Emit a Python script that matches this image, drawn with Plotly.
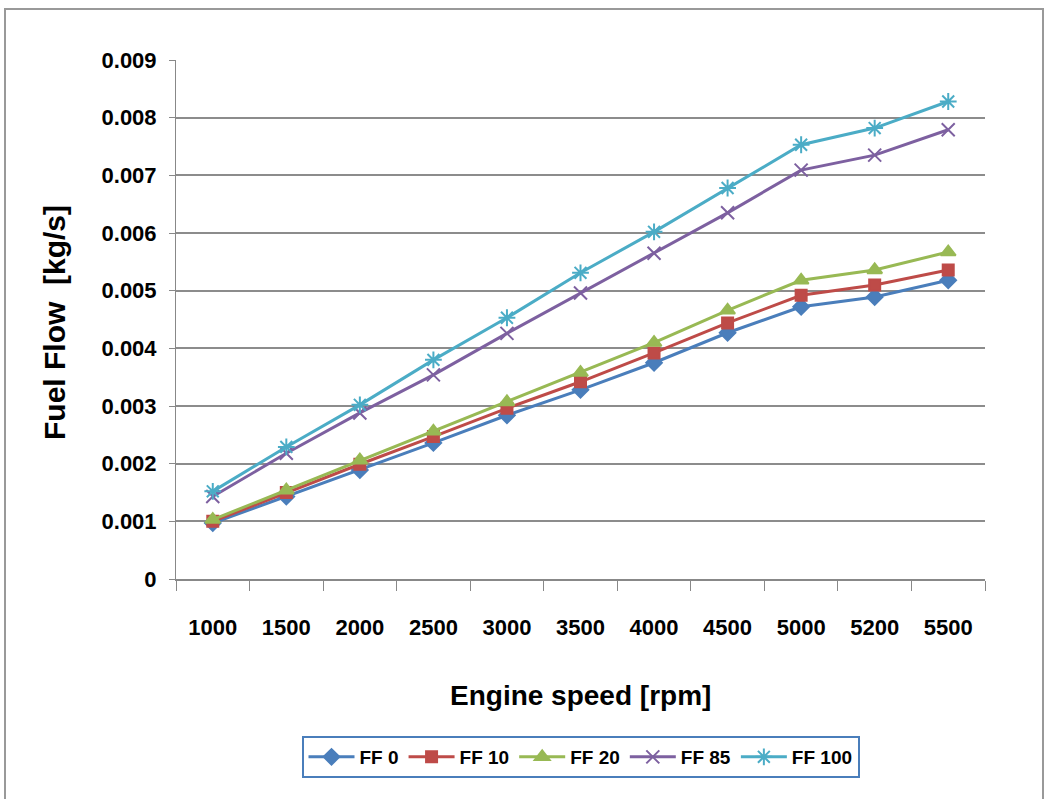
import plotly.graph_objects as go

speeds = ["1000", "1500", "2000", "2500", "3000", "3500", "4000", "4500", "5000", "5200", "5500"]
ff0 = [0.00097, 0.00143, 0.00189, 0.00236, 0.00284, 0.00328, 0.00375, 0.00427, 0.00472, 0.00489, 0.00518]
ff10 = [0.00100, 0.00150, 0.00199, 0.00247, 0.00296, 0.00342, 0.00392, 0.00444, 0.00492, 0.00510, 0.00536]
ff20 = [0.00103, 0.00154, 0.00206, 0.00256, 0.00307, 0.00358, 0.00410, 0.00466, 0.00518, 0.00536, 0.00567]
ff85 = [0.00143, 0.00218, 0.00288, 0.00354, 0.00426, 0.00496, 0.00565, 0.00635, 0.00709, 0.00735, 0.00779]
ff100 = [0.00152, 0.00229, 0.00302, 0.00380, 0.00453, 0.00531, 0.00602, 0.00678, 0.00753, 0.00782, 0.00828]
yticks = [0, 0.001, 0.002, 0.003, 0.004, 0.005, 0.006, 0.007, 0.008, 0.009]
ytick_text = ["0", "0.001", "0.002", "0.003", "0.004", "0.005", "0.006", "0.007", "0.008", "0.009"]

series = [
    ("FF 0", ff0, "#4A7EBB", "diamond", 12),
    ("FF 10", ff10, "#BE4B48", "square", 11),
    ("FF 20", ff20, "#98B954", "triangle-up", 13),
    ("FF 85", ff85, "#7D60A0", "x-thin", 13),
    ("FF 100", ff100, "#4BACC6", "asterisk", 14),
]

FONT = "Liberation Sans, Arial, sans-serif"

fig = go.Figure()
for name, vals, color, sym, size in series:
    fig.add_trace(go.Scatter(
        x=speeds, y=vals, name=name, mode="lines+markers",
        line=dict(color=color, width=3),
        marker=dict(symbol=sym, size=size, color=color,
                    line=dict(color=color, width=2)),
    ))

L, R, T, B = 176, 60, 60, 220
W, H = 1045, 799
pw, ph = W - L - R, H - T - B

fig.update_layout(
    width=W, height=H,
    margin=dict(l=L, r=R, t=T, b=B),
    paper_bgcolor="white", plot_bgcolor="white",
    font=dict(family=FONT, size=19, color="black", weight="bold"),
    showlegend=True,
    legend=dict(
        orientation="h", x=0.5, xanchor="center",
        y=(579 - 736) / ph, yanchor="top",
        bordercolor="#4A7EBB", borderwidth=2,
        font=dict(family=FONT, size=19, color="black", weight="bold"),
        itemwidth=46, tracegroupgap=0,
    ),
    xaxis=dict(
        type="category", tickson="boundaries", range=[-0.5, 10.5],
        showgrid=False, showline=True, linecolor="#888888", linewidth=2,
        ticks="outside", ticklen=10, tickcolor="#888888", tickwidth=1,
        ticklabelstandoff=28,
        tickfont=dict(family=FONT, size=22, color="black", weight="bold"),
        mirror=False,
    ),
    yaxis=dict(
        range=[0, 0.009], tickvals=yticks, ticktext=ytick_text,
        showgrid=True, gridcolor="#8c8c8c", gridwidth=2,
        showline=True, linecolor="#888888", linewidth=1,
        ticks="outside", ticklen=6, tickcolor="#888888",
        ticklabelstandoff=8,
        tickfont=dict(family=FONT, size=22, color="black", weight="bold"),
        zeroline=False,
    ),
    annotations=[
        dict(text="<b>Fuel Flow  [kg/s]</b>", xref="paper", yref="paper",
             x=(55 - L) / pw, y=(579 - 322) / ph, textangle=-90,
             showarrow=False, xanchor="center", yanchor="middle",
             font=dict(family=FONT, size=30, color="black")),
        dict(text="<b>Engine speed [rpm]</b>", xref="paper", yref="paper",
             x=(580 - L) / pw, y=(579 - 695) / ph,
             showarrow=False, xanchor="center", yanchor="middle",
             font=dict(family=FONT, size=28, color="black")),
    ],
    shapes=[
        dict(type="rect", xref="paper", yref="paper",
             x0=(5 - L) / pw, x1=(1043 - L) / pw,
             y0=(579 - 810) / ph, y1=(579 - 9) / ph,
             line=dict(color="#999999", width=2), fillcolor="rgba(0,0,0,0)",
             layer="below"),
    ],
)

fig.write_html("out.html")
